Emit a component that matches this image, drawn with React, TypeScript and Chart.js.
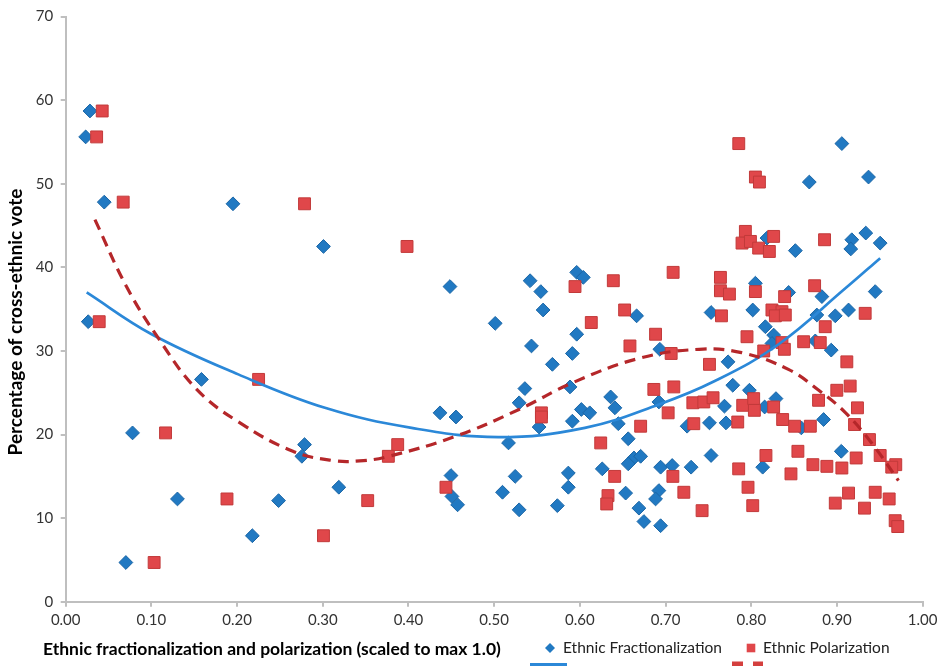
import React, { useEffect, useRef } from 'react';
import { Chart, registerables } from 'chart.js';

Chart.register(...registerables);

// ---------- data ----------
const FRAC_X = [
  0.0283, 0.0233, 0.0450, 0.1952, 0.3008, 0.0263, 0.1584, 0.0780, 0.2787, 0.2756,
  0.1304, 0.2484, 0.3187, 0.2178, 0.0702, 0.4484, 0.5419, 0.5544, 0.5571, 0.5012,
  0.5435, 0.5963, 0.6040, 0.6662, 0.5963, 0.5912, 0.5679, 0.5885, 0.5358, 0.5291,
  0.4368, 0.4554, 0.5524, 0.5167, 0.6359, 0.6409, 0.6017, 0.6115, 0.5912, 0.6448,
  0.6564, 0.6631, 0.6564, 0.4496, 0.4507, 0.4573, 0.5245, 0.5097, 0.5291, 0.5865,
  0.5865, 0.5737, 0.6261, 0.6534, 0.6689, 0.6933, 0.7729, 0.7784, 0.7978, 0.6922,
  0.7687, 0.7251, 0.7512, 0.7705, 0.7531, 0.6709, 0.6942, 0.7077, 0.7298, 0.6922,
  0.6883, 0.6747, 0.6942, 0.8048, 0.7531, 0.8017, 0.9057, 0.8677, 0.9368, 0.8183,
  0.8514, 0.9336, 0.9173, 0.9161, 0.9504, 0.8436, 0.8824, 0.9446, 0.8765, 0.8980,
  0.9135, 0.8164, 0.8261, 0.8241, 0.8747, 0.8933, 0.8288, 0.8156, 0.8584, 0.8844,
  0.9050, 0.8133,
];
const FRAC_Y = [
  58.7, 55.6, 47.8, 47.6, 42.5, 33.5, 26.6, 20.2, 18.8, 17.4,
  12.3, 12.1, 13.7, 7.9, 4.7, 37.7, 38.4, 37.1, 34.9, 33.3,
  30.6, 39.4, 38.8, 34.2, 32.0, 29.7, 28.4, 25.7, 25.5, 23.8,
  22.6, 22.1, 20.9, 19.0, 24.5, 23.2, 23.0, 22.6, 21.6, 21.3,
  19.5, 17.2, 16.5, 15.1, 12.6, 11.6, 15.0, 13.1, 11.0, 15.4,
  13.7, 11.5, 15.9, 13.0, 11.2, 30.2, 28.7, 25.9, 25.3, 23.9,
  23.4, 21.0, 21.4, 21.4, 17.5, 17.4, 16.1, 16.3, 16.1, 13.3,
  12.3, 9.6, 9.1, 38.1, 34.6, 34.9, 54.8, 50.2, 50.8, 43.5,
  42.0, 44.1, 43.3, 42.2, 42.9, 37.0, 36.5, 37.1, 34.3, 34.2,
  34.9, 32.9, 31.9, 30.9, 31.2, 30.1, 24.3, 23.3, 20.8, 21.8,
  18.0, 16.1,
];

const POL_X = [
  0.0426, 0.0361, 0.0671, 0.2787, 0.3983, 0.0391, 0.2251, 0.1165, 0.1882, 0.3008,
  0.1032, 0.3874, 0.3765, 0.3524, 0.4437, 0.5943, 0.6390, 0.6522, 0.6133, 0.6584,
  0.5551, 0.5551, 0.6243, 0.6406, 0.6328, 0.6313, 0.7088, 0.7640, 0.7640, 0.7745,
  0.7652, 0.6883, 0.7065, 0.7950, 0.7512, 0.6863, 0.7096, 0.7318, 0.7446, 0.7554,
  0.7900, 0.8028, 0.8036, 0.7030, 0.6709, 0.7329, 0.7842, 0.7085, 0.7853, 0.7962,
  0.7213, 0.7426, 0.8017, 0.7854, 0.8048, 0.8095, 0.7931, 0.7892, 0.7990, 0.8086,
  0.8211, 0.8261, 0.8855, 0.8739, 0.8389, 0.8241, 0.8358, 0.8281, 0.8397, 0.9329,
  0.8863, 0.8048, 0.8358, 0.8386, 0.8145, 0.8611, 0.8805, 0.9115, 0.9154, 0.8998,
  0.8785, 0.8261, 0.8366, 0.8506, 0.8689, 0.9239, 0.9205, 0.9379, 0.8544, 0.8171,
  0.9224, 0.9504, 0.8719, 0.8882, 0.9057, 0.9686, 0.9639, 0.8463, 0.9135, 0.9446,
  0.8980, 0.9609, 0.9321, 0.9679, 0.9709,
];
const POL_Y = [
  58.7, 55.6, 47.8, 47.6, 42.5, 33.5, 26.6, 20.2, 12.3, 7.9,
  4.7, 18.8, 17.4, 12.1, 13.7, 37.7, 38.4, 34.9, 33.4, 30.6,
  22.6, 22.1, 19.0, 15.0, 12.7, 11.7, 39.4, 38.8, 37.2, 36.8,
  34.2, 32.0, 29.7, 31.7, 28.4, 25.4, 25.7, 23.8, 23.9, 24.4,
  23.5, 24.3, 22.9, 22.6, 21.0, 21.3, 21.5, 15.0, 15.9, 13.7,
  13.1, 10.9, 11.5, 54.8, 50.8, 50.2, 44.3, 42.9, 43.1, 42.3,
  41.9, 43.7, 43.3, 37.8, 36.5, 34.9, 34.7, 34.2, 34.3, 34.5,
  32.9, 37.1, 31.0, 30.2, 30.0, 31.1, 31.0, 28.7, 25.8, 25.3,
  24.1, 23.3, 21.8, 21.0, 21.0, 23.2, 21.2, 19.4, 18.0, 17.5,
  17.2, 17.5, 16.4, 16.2, 16.0, 16.4, 16.1, 15.3, 13.0, 13.1,
  11.8, 12.3, 11.2, 9.7, 9.0,
];

// trend lines (polynomial fits)
const FRAC_FIT_X = [0.0245, 0.1003, 0.2014, 0.3025, 0.4036, 0.5047, 0.6058, 0.6922, 0.7574, 0.8319, 0.9088, 0.9504];
const FRAC_FIT_Y = [37.0, 32.0, 27.2, 23.2, 20.8, 19.7, 20.8, 23.6, 26.4, 30.8, 37.4, 41.1];
const POL_FIT_X = [0.0341, 0.0709, 0.1063, 0.1529, 0.2034, 0.2651, 0.3116, 0.3429, 0.3772, 0.4552, 0.5289, 0.5915, 0.6684, 0.7392, 0.7887, 0.8433, 0.8787, 0.9101, 0.9404, 0.9717];
const POL_FIT_Y = [45.7, 37.7, 31.8, 25.4, 21.4, 18.0, 16.9, 16.85, 17.4, 19.8, 23.0, 26.2, 29.1, 30.2, 29.8, 27.8, 25.3, 22.6, 19.0, 14.5];

const X_MIN = 0;
const X_MAX = 1;
const X_STEP = 0.1;
const Y_MIN = 0;
const Y_MAX = 70;
const Y_STEP = 10;

const X_TITLE = 'Ethnic fractionalization and polarization (scaled to max 1.0)';
const Y_TITLE = 'Percentage of cross-ethnic vote';
const SERIES_LABELS = ['Ethnic Fractionalization', 'Ethnic Polarization'];
const TREND_LABELS = ['Poly. (Ethnic Fractionalization)', 'Poly. (Ethnic Polarization)'];

// ---------- styles ----------
const FONT = 'Lato, "Open Sans", sans-serif';
const BLUE = '#2179c2';
const BLUE_EDGE = '#1b66a6';
const RED = '#e0474a';
const RED_EDGE = '#c23a3a';
const BLUE_LINE = '#2b88d8';
const RED_LINE = '#b5272a';
const AXIS = '#bfbfbf';

export default function App() {
  const ref = useRef<HTMLCanvasElement>(null);

  useEffect(() => {
    const canvas = ref.current;
    if (!canvas) return;

    const fracPts = FRAC_X.map((x, i) => ({ x, y: FRAC_Y[i] }));
    const polPts = POL_X.map((x, i) => ({ x, y: POL_Y[i] }));
    const fracFit = FRAC_FIT_X.map((x, i) => ({ x, y: FRAC_FIT_Y[i] }));
    const polFit = POL_FIT_X.map((x, i) => ({ x, y: POL_FIT_Y[i] }));

    const overlay = {
      id: 'overlay',
      afterDraw(chart: any) {
        const ctx: CanvasRenderingContext2D = chart.ctx;
        ctx.save();
        ctx.textBaseline = 'middle';

        // y title
        ctx.save();
        ctx.translate(16, 322);
        ctx.rotate(-Math.PI / 2);
        ctx.textAlign = 'center';
        ctx.fillStyle = '#000';
        ctx.font = `bold 19px ${FONT}`;
        ctx.fillText(Y_TITLE, 0, 0, 322);
        ctx.restore();

        // x title
        ctx.textAlign = 'left';
        ctx.fillStyle = '#000';
        ctx.font = `bold 17.5px ${FONT}`;
        ctx.fillText(X_TITLE, 43, 649, 475);

        // legend row 1
        const ly = 648;
        ctx.fillStyle = BLUE;
        ctx.beginPath();
        ctx.moveTo(550, ly - 5);
        ctx.lineTo(555, ly);
        ctx.lineTo(550, ly + 5);
        ctx.lineTo(545, ly);
        ctx.closePath();
        ctx.fill();
        ctx.fillStyle = RED;
        ctx.fillRect(751 - 4.3, ly - 4.3, 8.6, 8.6);
        ctx.fillStyle = '#222';
        ctx.font = `15.5px ${FONT}`;
        ctx.fillText(SERIES_LABELS[0], 563, ly, 160);
        ctx.fillText(SERIES_LABELS[1], 763, ly, 128);

        // legend row 2 (mostly cut off by the picture's edge)
        ctx.strokeStyle = BLUE_LINE;
        ctx.lineWidth = 3;
        ctx.beginPath();
        ctx.moveTo(530, 664.5);
        ctx.lineTo(567, 664.5);
        ctx.stroke();
        ctx.fillStyle = '#d43f3e';
        ctx.fillRect(732, 661.5, 11, 8);
        ctx.fillRect(753, 661.5, 10, 8);
        ctx.fillStyle = '#222';
        ctx.fillText(TREND_LABELS[0], 580, 678, 190);
        ctx.fillText(TREND_LABELS[1], 776, 678, 160);

        ctx.restore();
      },
    };

    const chart = new Chart(canvas, {
      type: 'scatter',
      data: {
        datasets: [
          {
            label: TREND_LABELS[1],
            data: polFit,
            showLine: true,
            pointRadius: 0,
            borderColor: RED_LINE,
            borderWidth: 3.2,
            borderDash: [11, 7],
            tension: 0.4,
            fill: false,
            order: 0,
          } as any,
          {
            label: TREND_LABELS[0],
            data: fracFit,
            showLine: true,
            pointRadius: 0,
            borderColor: BLUE_LINE,
            borderWidth: 2.7,
            tension: 0.4,
            fill: false,
            order: 1,
          },
          {
            label: SERIES_LABELS[1],
            data: polPts,
            pointStyle: 'rect',
            pointRadius: 8.4,
            backgroundColor: RED,
            borderColor: RED_EDGE,
            borderWidth: 1,
            order: 2,
          },
          {
            label: SERIES_LABELS[0],
            data: fracPts,
            pointStyle: 'rectRot',
            pointRadius: 6.9,
            backgroundColor: BLUE,
            borderColor: BLUE_EDGE,
            borderWidth: 1,
            order: 3,
          },
        ],
      },
      options: {
        animation: false,
        responsive: true,
        maintainAspectRatio: false,
        events: [],
        layout: { padding: { left: 0, right: 17.7, top: 16.4, bottom: 0 } },
        plugins: {
          legend: { display: false },
          tooltip: { enabled: false },
          title: { display: false },
        },
        scales: {
          x: {
            type: 'linear',
            min: X_MIN,
            max: X_MAX,
            afterFit: (s: any) => {
              s.height = 64.2;
            },
            ticks: {
              stepSize: X_STEP,
              padding: 4.5,
              color: '#333',
              font: { family: FONT, size: 15 },
              callback: (v: any) => Number(v).toFixed(2),
              maxRotation: 0,
              autoSkip: false,
            },
            grid: {
              display: true,
              drawOnChartArea: false,
              drawTicks: true,
              tickLength: 5,
              color: AXIS,
              lineWidth: 2,
            },
            border: { display: true, color: AXIS, width: 2 },
          },
          y: {
            type: 'linear',
            min: Y_MIN,
            max: Y_MAX,
            afterFit: (s: any) => {
              s.width = 65.7;
            },
            ticks: {
              stepSize: Y_STEP,
              padding: 7.5,
              color: '#333',
              font: { family: FONT, size: 15 },
              autoSkip: false,
            },
            grid: {
              display: true,
              drawOnChartArea: false,
              drawTicks: true,
              tickLength: 5,
              color: AXIS,
              lineWidth: 2,
            },
            border: { display: true, color: AXIS, width: 2 },
          },
        },
      },
      plugins: [overlay],
    });

    return () => chart.destroy();
  }, []);

  return (
    <div style={{ position: 'fixed', left: 0, top: 0, width: 942, height: 666, background: '#fff' }}>
      <canvas ref={ref} />
    </div>
  );
}
